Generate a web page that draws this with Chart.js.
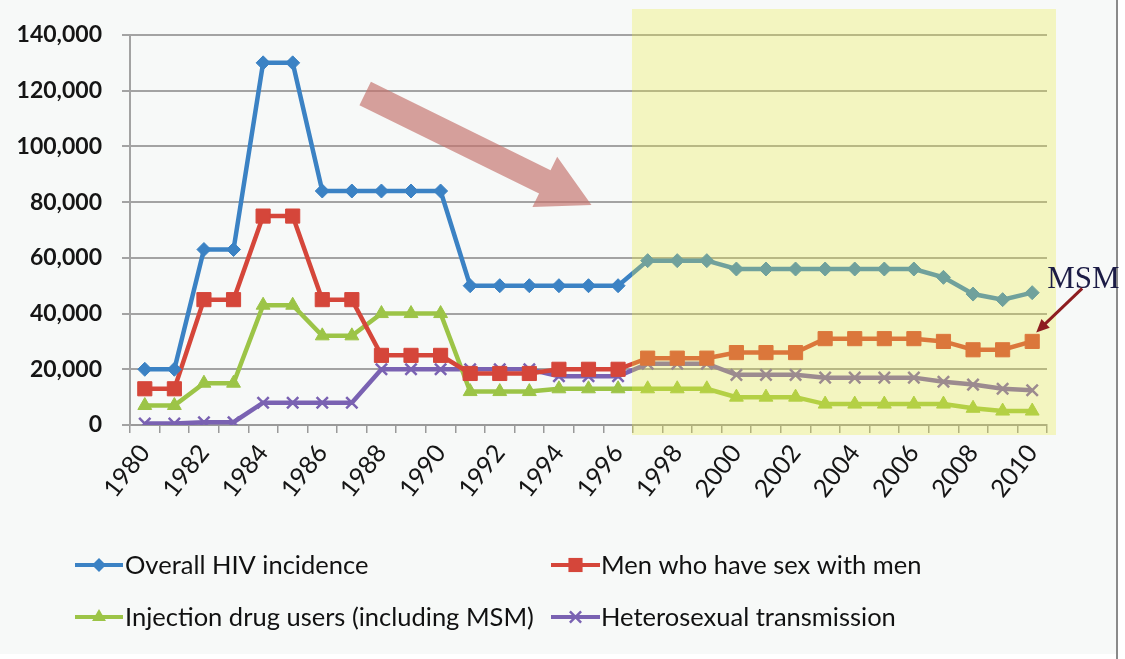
<!DOCTYPE html>
<html><head><meta charset="utf-8">
<script src="https://cdn.jsdelivr.net/npm/chart.js@4"></script>
<style>html,body{margin:0;padding:0;background:#fff;overflow:hidden;}#wrap{width:1125px;height:659px;position:relative;}</style>
</head><body><div id="wrap"><canvas id="c" width="1125" height="659"></canvas></div>
<script>
const years = ['1980','1981','1982','1983','1984','1985','1986','1987','1988','1989','1990','1991','1992','1993','1994','1995','1996','1997','1998','1999','2000','2001','2002','2003','2004','2005','2006','2007','2008','2009','2010'];
const overall = [20000,20000,63000,63000,130000,130000,84000,84000,84000,84000,84000,50000,50000,50000,50000,50000,50000,59000,59000,59000,56000,56000,56000,56000,56000,56000,56000,53000,47000,45000,47500];
const msm = [13000,13000,45000,45000,75000,75000,45000,45000,25000,25000,25000,18500,18500,18500,20000,20000,20000,24000,24000,24000,26000,26000,26000,31000,31000,31000,31000,30000,27000,27000,30000];
const idu = [7000,7000,15000,15000,43000,43000,32000,32000,40000,40000,40000,12000,12000,12000,13000,13000,13000,13000,13000,13000,10000,10000,10000,7500,7500,7500,7500,7500,6000,5000,5000];
const hetero = [500,500,1000,1000,8000,8000,8000,8000,20000,20000,20000,20000,20000,20000,17500,17500,17500,22000,22000,22000,18000,18000,18000,17000,17000,17000,17000,15500,14500,13000,12500];
const seriesNames = ['Overall HIV incidence','Men who have sex with men','Injection drug users (including MSM)','Heterosexual transmission'];
const yMin = 0, yMax = 140000, yStep = 20000;
const annotationText = 'MSM';

const FONT = 'Lato';
const colors = ['#3b82c4','#d5463a','#9cc447','#7a62b2'];
const styles = ['rectRot','rect','triangle','crossRot'];
const radii = [7,10,8,8];

function mkDs(label, data, i){
  return {label, data, borderColor: colors[i], backgroundColor: colors[i],
    pointBackgroundColor: colors[i], pointBorderColor: colors[i],
    pointStyle: styles[i], pointRadius: radii[i], pointBorderWidth: i===3?2.5:1,
    borderWidth: 4.5, tension: 0};
}

function drawMarker(ctx, style, x, y, r, color){
  ctx.save();
  ctx.fillStyle = color; ctx.strokeStyle = color; ctx.lineWidth = 2.5;
  ctx.beginPath();
  if (style==='rectRot'){ ctx.moveTo(x, y-r); ctx.lineTo(x+r, y); ctx.lineTo(x, y+r); ctx.lineTo(x-r, y); ctx.closePath(); ctx.fill(); }
  else if (style==='rect'){ const s=r*Math.SQRT1_2; ctx.rect(x-s, y-s, 2*s, 2*s); ctx.fill(); }
  else if (style==='triangle'){ ctx.moveTo(x, y-r); ctx.lineTo(x+r*0.87, y+r*0.5); ctx.lineTo(x-r*0.87, y+r*0.5); ctx.closePath(); ctx.fill(); }
  else { const s=r*0.7; ctx.moveTo(x-s,y-s); ctx.lineTo(x+s,y+s); ctx.moveTo(x+s,y-s); ctx.lineTo(x-s,y+s); ctx.stroke(); }
  ctx.restore();
}

const decor = {
  id: 'decor',
  beforeDraw(chart){
    const ctx = chart.ctx;
    ctx.save();
    ctx.fillStyle = '#ffffff'; ctx.fillRect(0,0,chart.width,chart.height);
    ctx.fillStyle = '#f7f9f8'; ctx.fillRect(0,0,1116,654);
    ctx.fillStyle = '#8a8a8a'; ctx.fillRect(1116,0,2,chart.height);
    ctx.restore();
  },
  afterDatasetsDraw(chart){
    const ctx = chart.ctx, xs = chart.scales.x, ys = chart.scales.y, ca = chart.chartArea;
    // trend arrow
    const tx = xs.getPixelForValue(7.45), ty = ys.getPixelForValue(119000);
    const px = xs.getPixelForValue(15.1), py = ys.getPixelForValue(79000);
    const ang = Math.atan2(py-ty, px-tx), len = Math.hypot(px-tx, py-ty);
    ctx.save();
    ctx.translate(tx, ty); ctx.rotate(ang);
    ctx.fillStyle = 'rgba(196,112,106,0.66)';
    ctx.beginPath();
    const hw = 13, hl = 52, hh = 28;
    ctx.moveTo(0,-hw); ctx.lineTo(len-hl,-hw); ctx.lineTo(len-hl,-hh); ctx.lineTo(len,0);
    ctx.lineTo(len-hl,hh); ctx.lineTo(len-hl,hw); ctx.lineTo(0,hw); ctx.closePath(); ctx.fill();
    ctx.restore();
    // yellow highlight
    const step = xs.getPixelForValue(1) - xs.getPixelForValue(0);
    const left = xs.getPixelForValue(16) + step*0.47;
    ctx.save();
    ctx.fillStyle = 'rgba(236,236,62,0.30)';
    ctx.fillRect(left, ca.top-26, ca.right+9-left, ca.bottom+10-(ca.top-26));
    ctx.restore();
    // MSM annotation
    const lx = xs.getPixelForValue(30), lyv = ys.getPixelForValue(msm[30]);
    ctx.save();
    ctx.font = '31px "Liberation Serif", serif';
    ctx.fillStyle = '#1c1c46'; ctx.textBaseline = 'alphabetic'; ctx.textAlign = 'left';
    ctx.fillText(annotationText, lx+15, lyv-53);
    const sx = lx+50, sy = lyv-53, ex = lx+4, ey = lyv-9;
    ctx.strokeStyle = '#8e1d20'; ctx.fillStyle = '#8e1d20'; ctx.lineWidth = 3;
    const a2 = Math.atan2(ey-sy, ex-sx);
    ctx.beginPath(); ctx.moveTo(sx, sy); ctx.lineTo(ex-Math.cos(a2)*8, ey-Math.sin(a2)*8); ctx.stroke();
    ctx.translate(ex, ey); ctx.rotate(a2);
    ctx.beginPath(); ctx.moveTo(0,0); ctx.lineTo(-13,-6); ctx.lineTo(-13,6); ctx.closePath(); ctx.fill();
    ctx.restore();
  },
  afterDraw(chart){
    const ctx = chart.ctx;
    const items = [
      {x0:75, x1:123, tx:125, y:565},
      {x0:551, x1:600, tx:601, y:565},
      {x0:75, x1:123, tx:125, y:617},
      {x0:551, x1:600, tx:601, y:617}
    ];
    ctx.save();
    chart.data.datasets.forEach((ds, i) => {
      const it = items[i];
      ctx.strokeStyle = colors[i]; ctx.lineWidth = 4;
      ctx.beginPath(); ctx.moveTo(it.x0, it.y); ctx.lineTo(it.x1, it.y); ctx.stroke();
      drawMarker(ctx, styles[i], (it.x0+it.x1)/2, it.y, radii[i], colors[i]);
      ctx.font = '25.5px ' + FONT; ctx.fillStyle = '#111';
      ctx.textBaseline = 'middle'; ctx.textAlign = 'left';
      ctx.fillText(ds.label, it.tx, it.y+1);
    });
    ctx.restore();
  }
};

new Chart(document.getElementById('c'), {
  type: 'line',
  data: { labels: years, datasets: [mkDs(seriesNames[0], overall, 0), mkDs(seriesNames[1], msm, 1), mkDs(seriesNames[2], idu, 2), mkDs(seriesNames[3], hetero, 3)] },
  options: {
    responsive: false, animation: false, devicePixelRatio: 1,
    layout: { padding: { top: 35, right: 78, left: 0, bottom: 0 } },
    plugins: { legend: { display: false }, tooltip: { enabled: false } },
    scales: {
      x: {
        offset: true,
        afterFit(s){ s.height = 234; },
        grid: { offset: true, drawOnChartArea: false, drawTicks: true, tickLength: 8, color: '#9a9a9a', lineWidth: 1.5 },
        border: { display: true, color: '#9a9a9a', width: 2 },
        ticks: { autoSkip: false, maxRotation: 52, minRotation: 52, padding: 6, color: '#151515',
          font: { family: FONT, size: 25 },
          callback: (v, i) => (i % 2 === 0 ? years[i] : '') }
      },
      y: {
        min: yMin, max: yMax,
        afterFit(s){ s.width = 130; },
        grid: { color: '#a3a3a3', lineWidth: 2, tickLength: 8, drawTicks: true },
        border: { display: true, color: '#a3a3a3', width: 2 },
        ticks: { stepSize: yStep, padding: 20, color: '#151515', font: { family: FONT, size: 23, weight: 'bold' },
          callback: v => v.toLocaleString('en-US') }
      }
    }
  },
  plugins: [decor]
});
</script>
</body></html>
